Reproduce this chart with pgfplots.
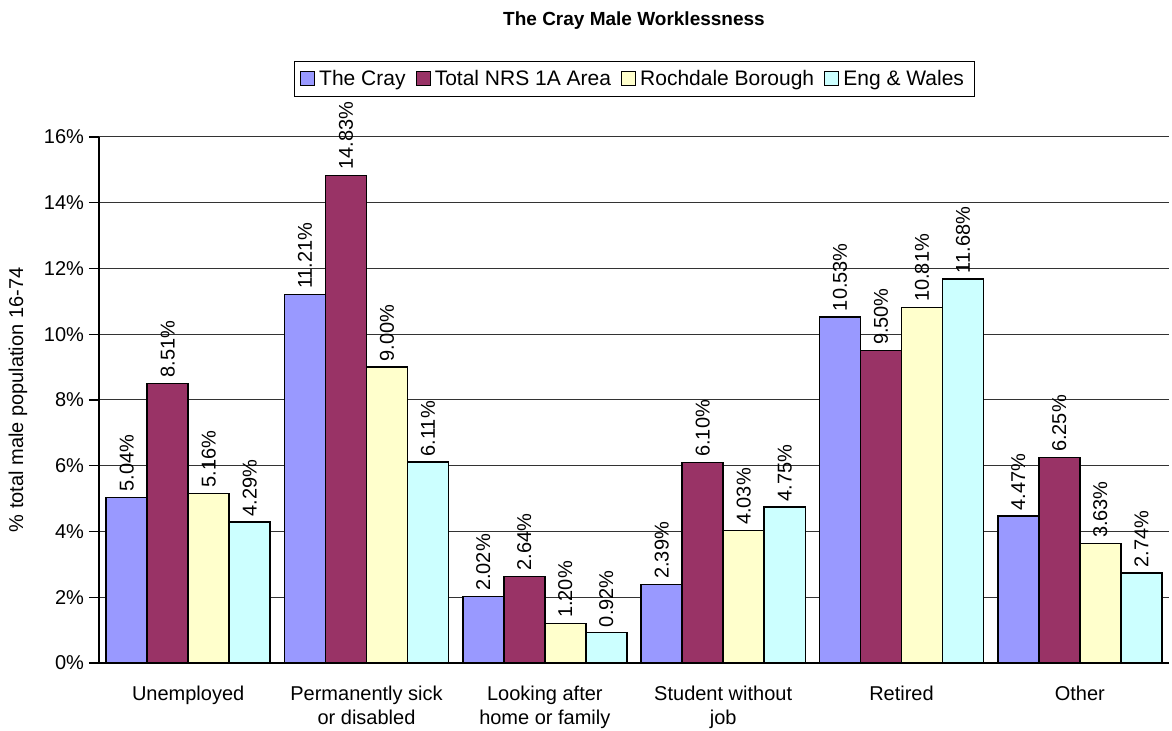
\documentclass[border=0pt]{standalone}
\usepackage{pgfplots}
\pgfplotsset{compat=1.18}
\usepackage{fontspec}
\setmainfont{Liberation Sans}
\definecolor{crayBlue}{RGB}{153,153,255}
\definecolor{nrsPlum}{RGB}{153,51,102}
\definecolor{rochYellow}{RGB}{255,255,204}
\definecolor{ewCyan}{RGB}{204,255,255}

\begin{document}
\begin{tikzpicture}
\begin{axis}[
  scale only axis,
  width=535pt,height=263pt,
  ybar=0pt,bar width=0.23,
  xmin=-0.5,xmax=5.5,
  ymin=0,ymax=16,
  ytick={0,2,...,16},
  yticklabel={\pgfmathprintnumber[fixed,precision=0,assume math mode=true]{\tick}\%},
  xtick={0,...,5},
  xticklabels={Unemployed,{Permanently sick\\or disabled},{Looking after\\home or family},{Student without\\job},Retired,Other},
  xticklabel style={align=center,yshift=-3pt},
  major x tick style={draw=none},
  extra x ticks={-0.5,0.5,1.5,2.5,3.5,4.5,5.5},
  extra x tick labels={},
  extra x tick style={major tick length=5pt,tick style={draw=black,line width=0.6pt}},
  tick align=outside,
  major tick length=5pt,
  axis x line*=bottom,
  axis y line*=left,
  axis line style={line width=0.6pt},
  ymajorgrids,
  grid style={draw=black!80,line width=0.5pt},
  tick style={black,line width=0.6pt},
  tick label style={font=\fontsize{10}{12}\selectfont},
  yticklabel style={xshift=1pt},
  ylabel={\% total male population 16-74},
  ylabel style={font=\fontsize{10}{12}\selectfont,yshift=1.5pt},
  title={The Cray Male Worklessness},
  title style={font=\bfseries\fontsize{9.5}{11}\selectfont,at={(0.5,1)},anchor=center,yshift=52pt},
  legend style={at={(0.5,1.076)},anchor=south,legend columns=4,draw=black,
    font=\fontsize{10.5}{12}\selectfont,inner xsep=3pt,inner ysep=2.2pt,
    /tikz/every even column/.append style={column sep=3pt}},
  legend image code/.code={\draw[#1,draw=black,line width=0.6pt] (0pt,-3pt) rectangle (7pt,4pt);},
  nodes near coords={\pgfmathprintnumber[fixed,fixed zerofill,precision=2,assume math mode=true]{\pgfplotspointmeta}\%},
  nodes near coords style={rotate=90,anchor=west,font=\fontsize{10}{12}\selectfont,black,inner sep=0.5pt,xshift=2pt},
  every axis plot/.append style={draw=black,line width=0.7pt}
]
\addplot[fill=crayBlue] coordinates {(0,5.04) (1,11.21) (2,2.02) (3,2.39) (4,10.53) (5,4.47)};
\addplot[fill=nrsPlum] coordinates {(0,8.51) (1,14.83) (2,2.64) (3,6.10) (4,9.50) (5,6.25)};
\addplot[fill=rochYellow] coordinates {(0,5.16) (1,9.00) (2,1.20) (3,4.03) (4,10.81) (5,3.63)};
\addplot[fill=ewCyan] coordinates {(0,4.29) (1,6.11) (2,0.92) (3,4.75) (4,11.68) (5,2.74)};
\legend{The Cray,Total NRS 1A Area,Rochdale Borough,Eng \& Wales}
\end{axis}
\pgfresetboundingbox
\path ([shift={(-49.5pt,-34pt)}]current axis.south west) rectangle ([shift={(1.5pt,68.5pt)}]current axis.north east);
\end{tikzpicture}
\end{document}
